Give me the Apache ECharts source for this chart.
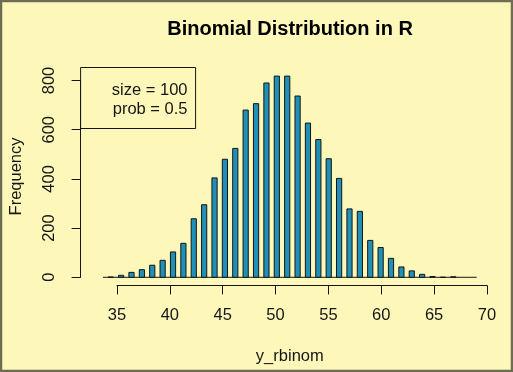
<!DOCTYPE html>
<html>
<head>
<meta charset="utf-8">
<script src="https://cdn.jsdelivr.net/npm/echarts@6/dist/echarts.min.js"></script>
<style>
html,body{margin:0;padding:0;background:#fdf8ba;}
#chart{width:513px;height:372px;}
</style>
</head>
<body>
<div id="chart"></div>
<script>
// ---- data ----
const titleText = 'Binomial Distribution in R';
const xLabel = 'y_rbinom';
const yLabel = 'Frequency';
const legendLines = ['size = 100', 'prob = 0.5'];
const binValues = [34,35,36,37,38,39,40,41,42,43,44,45,46,47,48,49,50,51,52,53,54,55,56,57,58,59,60,61,62,63,64,65,66,67];
const binCounts = [1,8,20,31,49,69,103,138,238,295,404,480,524,680,706,790,818,818,737,627,560,482,402,278,268,150,121,77,42,26,12,3,0,2];
const breakRange = [33, 69];
const binWidth = 0.5;
const xTicks = [35,40,45,50,55,60,65,70];
const yTicks = [0,200,400,600,800];

// ---- layout ----
const W = 513, H = 372;
const plotL = 80.6, plotR = 491.6, plotT = 67.5, plotB = 285.4;
const xMin = 31.56, xMax = 70.44, yMin = -33, yMax = 853;
const xPx = v => plotL + (v - xMin) / (xMax - xMin) * (plotR - plotL);
const yPx = v => plotB - (v - yMin) / (yMax - yMin) * (plotB - plotT);

const font = 'Liberation Sans, Arial, Helvetica, sans-serif';
const fs = 16.5;
const ink = '#151515';
const barData = binValues.map((v, i) => [v, binCounts[i]]);

const chart = echarts.init(document.getElementById('chart'), null, {renderer: 'canvas'});
chart.setOption({
  backgroundColor: '#fdf8ba',
  animation: false,
  title: {
    text: titleText,
    left: (plotL + plotR) / 2 - 1,
    textAlign: 'center',
    top: 14,
    textStyle: {fontFamily: font, fontWeight: 'bold', fontSize: 20, color: '#000'}
  },
  grid: [
    {left: plotL, right: W - plotR, top: plotT, bottom: H - plotB},
    {left: xPx(xTicks[0]), right: W - xPx(xTicks[xTicks.length - 1]), top: 100, bottom: H - plotB},
    {left: plotL, right: 300, top: yPx(yTicks[yTicks.length - 1]), bottom: H - yPx(yTicks[0])}
  ],
  xAxis: [
    {gridIndex: 0, type: 'value', min: xMin, max: xMax,
     axisLine: {show: false}, axisTick: {show: false}, axisLabel: {show: false}, splitLine: {show: false},
     name: xLabel, nameLocation: 'middle', nameGap: 63,
     nameTextStyle: {fontFamily: font, fontSize: fs, color: ink}},
    {gridIndex: 1, type: 'value', min: xTicks[0], max: xTicks[xTicks.length - 1], interval: 5, position: 'bottom',
     axisLine: {show: true, lineStyle: {color: ink, width: 1}},
     axisTick: {show: true, length: 9, lineStyle: {color: ink, width: 1}},
     axisLabel: {show: true, margin: 22, fontFamily: font, fontSize: fs, color: ink},
     splitLine: {show: false}},
    {gridIndex: 2, type: 'value', min: 0, max: 1, show: false}
  ],
  yAxis: [
    {gridIndex: 0, type: 'value', min: yMin, max: yMax,
     axisLine: {show: false}, axisTick: {show: false}, axisLabel: {show: false}, splitLine: {show: false},
     name: yLabel, nameLocation: 'middle', nameGap: 63,
     nameTextStyle: {fontFamily: font, fontSize: fs, color: ink}},
    {gridIndex: 1, type: 'value', min: 0, max: 1, show: false},
    {gridIndex: 2, type: 'value', min: yTicks[0], max: yTicks[yTicks.length - 1], interval: 200, position: 'left',
     axisLine: {show: true, lineStyle: {color: ink, width: 1}},
     axisTick: {show: true, length: 9, lineStyle: {color: ink, width: 1}},
     axisLabel: {show: true, rotate: 90, margin: 23, fontFamily: font, fontSize: fs, color: ink},
     splitLine: {show: false}}
  ],
  series: [
    {type: 'line', xAxisIndex: 0, yAxisIndex: 0, z: 1, symbol: 'none', silent: true,
     data: [[breakRange[0], 0], [breakRange[1], 0]],
     lineStyle: {color: ink, width: 1}},
    {type: 'custom', xAxisIndex: 0, yAxisIndex: 0, z: 2, data: barData,
     renderItem: function (params, api) {
       const k = api.value(0), c = api.value(1);
       const p0 = api.coord([k - binWidth, c]);
       const p1 = api.coord([k, 0]);
       return {type: 'rect',
         shape: {x: p0[0], y: p0[1], width: p1[0] - p0[0], height: p1[1] - p0[1]},
         style: {fill: '#2190b8', stroke: ink, lineWidth: 1}};
     }}
  ],
  graphic: [
    {type: 'rect', z: 10, shape: {x: plotL, y: plotT, width: 115, height: 61},
     style: {fill: 'none', stroke: ink, lineWidth: 1}},
    {type: 'text', z: 10, x: 187.5, y: 90,
     style: {text: legendLines[0], font: fs + 'px ' + font, fill: ink, textAlign: 'right', textVerticalAlign: 'middle'}},
    {type: 'text', z: 10, x: 187.5, y: 109.5,
     style: {text: legendLines[1], font: fs + 'px ' + font, fill: ink, textAlign: 'right', textVerticalAlign: 'middle'}},
    {type: 'rect', z: 20, shape: {x: 1, y: 1, width: W - 2, height: H - 2},
     style: {fill: 'none', stroke: '#6e6c55', lineWidth: 2.5}}
  ]
});
</script>
</body>
</html>
